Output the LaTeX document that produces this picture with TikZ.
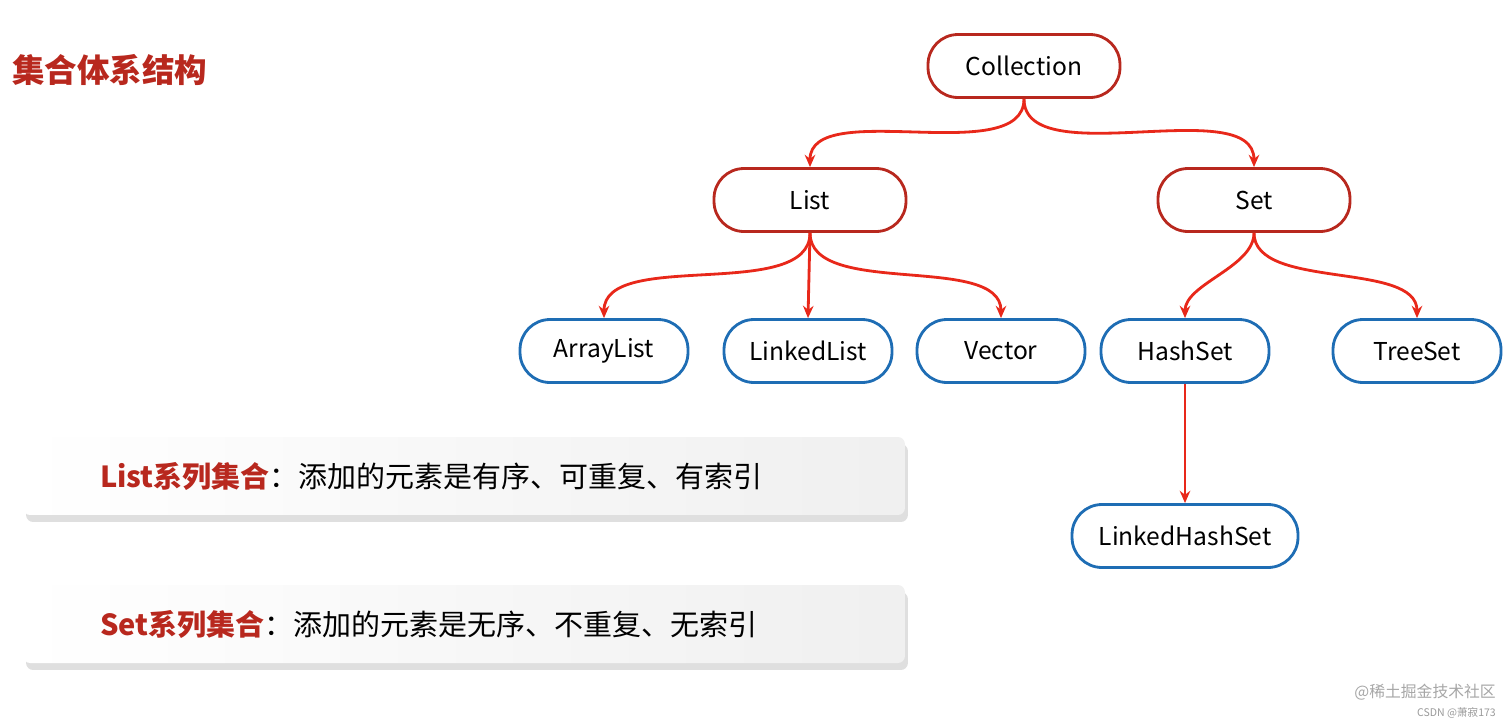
\documentclass[tikz,border=0pt]{standalone}
\usepackage{fontspec}
\setmainfont{Noto Sans CJK SC}
\usetikzlibrary{shadows,arrows.meta}
\definecolor{darkred}{HTML}{B8281E}
\definecolor{arrowred}{HTML}{E8281A}
\definecolor{boxblue}{HTML}{1E6DB4}
\tikzset{
  redbox/.style={draw=darkred, line width=1.6pt, rounded corners=0.6cm, minimum width=3.84cm, minimum height=1.26cm, font=\fontsize{14}{17}\selectfont},
  bluebox/.style={draw=boxblue, line width=1.6pt, rounded corners=0.6cm, minimum width=3.36cm, minimum height=1.26cm, font=\fontsize{14}{17}\selectfont},
  link/.style={draw=arrowred, line width=1.6pt, -{Stealth[length=7pt,width=6pt]}},
  infobox/.style={rounded corners=4pt, left color=white, right color=gray!12, drop shadow={opacity=0.25, shadow xshift=0.6mm, shadow yshift=-1.4mm}, minimum width=17.64cm, minimum height=1.56cm}
}
\begin{document}
\begin{tikzpicture}[x=0.02cm, y=-0.02cm]
        \useasboundingbox (0,0) rectangle (1512,727);

        % title
        \node[anchor=west, text=darkred, font=\fontsize{18.5}{22}\selectfont\bfseries] (title) at (6,70) {集合体系结构};

        % tree
        \node[redbox] (collection) at (1024,66) {Collection};
        \node[redbox] (list) at (810,200) {List};
        \node[redbox] (set) at (1254,200) {Set};
        \node[bluebox] (arraylist) at (604,351) {ArrayList};
        \node[bluebox] (linkedlist) at (808,351) {LinkedList};
        \node[bluebox] (vector) at (1001,351) {Vector};
        \node[bluebox] (hashset) at (1185,351) {HashSet};
        \node[bluebox] (treeset) at (1417,351) {TreeSet};
        \node[bluebox, minimum width=4.52cm] (linkedhashset) at (1185,536) {LinkedHashSet};

        \draw[link] (collection.south) to[out=-90, in=90, looseness=0.8] (list.north);
        \draw[link] (collection.south) to[out=-90, in=90, looseness=0.8] (set.north);
        \draw[link] (list.south) to[out=-90, in=90, looseness=0.8] (arraylist.north);
        \draw[link] (list.south) -- (linkedlist.north);
        \draw[link] (list.south) to[out=-90, in=90, looseness=0.8] (vector.north);
        \draw[link] (set.south) to[out=-90, in=90, looseness=0.8] (hashset.north);
        \draw[link] (set.south) to[out=-90, in=90, looseness=0.8] (treeset.north);
        \draw[link] (hashset.south) -- (linkedhashset.north);

        % notes
        \node[infobox] (listnote) at (464,476) {};
        \node[anchor=west, font=\fontsize{16.5}{20}\selectfont] (listtext) at (94,476) {\textcolor{darkred}{\bfseries List系列集合}：添加的元素是有序、可重复、有索引};
        \node[infobox] (setnote) at (464,624) {};
        \node[anchor=west, font=\fontsize{16.5}{20}\selectfont] (settext) at (94,624) {\textcolor{darkred}{\bfseries Set系列集合}：添加的元素是无序、不重复、无索引};

        % watermarks
        \node[anchor=east, text=gray!70, font=\fontsize{9}{11}\selectfont] (mark) at (1502,692) {@稀土掘金技术社区};
        \node[anchor=east, text=gray!80, font=\fontsize{6}{8}\selectfont] (csdn) at (1502,713) {CSDN @萧寂173};
\end{tikzpicture}
\end{document}
